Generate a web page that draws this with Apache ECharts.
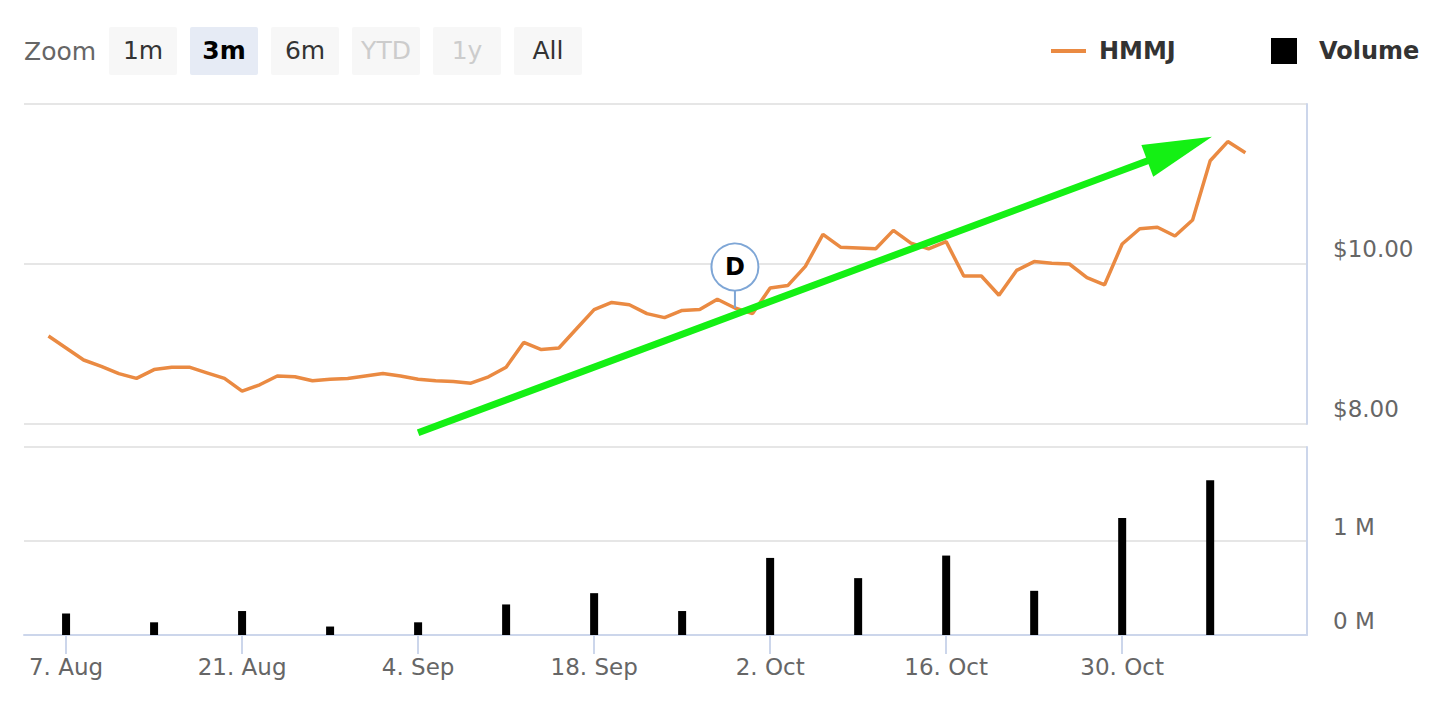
<!DOCTYPE html>
<html>
<head>
<meta charset="utf-8">
<script src="https://cdn.jsdelivr.net/npm/echarts@6/dist/echarts.min.js"></script>
<style>
html,body{margin:0;padding:0;background:#ffffff;}
#chart{width:1444px;height:720px;}
</style>
</head>
<body>
<div id="chart"></div>
<script>
// ---------- data ----------
const tradingDays = [
  '2017-08-04',
  '2017-08-07','2017-08-08','2017-08-09','2017-08-10','2017-08-11',
  '2017-08-14','2017-08-15','2017-08-16','2017-08-17','2017-08-18',
  '2017-08-21','2017-08-22','2017-08-23','2017-08-24','2017-08-25',
  '2017-08-28','2017-08-29','2017-08-30','2017-08-31','2017-09-01',
  '2017-09-04','2017-09-05','2017-09-06','2017-09-07','2017-09-08',
  '2017-09-11','2017-09-12','2017-09-13','2017-09-14','2017-09-15',
  '2017-09-18','2017-09-19','2017-09-20','2017-09-21','2017-09-22',
  '2017-09-25','2017-09-26','2017-09-27','2017-09-28','2017-09-29',
  '2017-10-02','2017-10-03','2017-10-04','2017-10-05','2017-10-06',
  '2017-10-09','2017-10-10','2017-10-11','2017-10-12','2017-10-13',
  '2017-10-16','2017-10-17','2017-10-18','2017-10-19','2017-10-20',
  '2017-10-23','2017-10-24','2017-10-25','2017-10-26','2017-10-27',
  '2017-10-30','2017-10-31','2017-11-01','2017-11-02','2017-11-03',
  '2017-11-06','2017-11-07','2017-11-08'
];
const prices = [
  9.10, 8.95, 8.80, 8.72, 8.63, 8.57, 8.68, 8.71, 8.71, 8.64,
  8.57, 8.41, 8.49, 8.60, 8.59, 8.54, 8.56, 8.57, 8.60, 8.63,
  8.60, 8.56, 8.54, 8.53, 8.51, 8.59, 8.71, 9.02, 8.93, 8.95,
  9.19, 9.43, 9.52, 9.49, 9.38, 9.33, 9.42, 9.43, 9.56, 9.45,
  9.38, 9.70, 9.73, 9.97, 10.37, 10.21, 10.20, 10.19, 10.42, 10.26,
  10.19, 10.28, 9.85, 9.85, 9.61, 9.92, 10.03, 10.01, 10.00, 9.83,
  9.74, 10.25, 10.44, 10.46, 10.35, 10.55, 11.29, 11.53, 11.39
];
const volumeWeeks = [
  '2017-08-07','2017-08-14','2017-08-21','2017-08-28','2017-09-04','2017-09-11','2017-09-18',
  '2017-09-25','2017-10-02','2017-10-09','2017-10-16','2017-10-23','2017-10-30','2017-11-06'
];
const volumes = [
  230000, 135000, 255000, 90000, 135000, 325000, 445000,
  255000, 820000, 605000, 845000, 470000, 1245000, 1645000
];
const tickDates = ['2017-08-07','2017-08-21','2017-09-04','2017-09-18','2017-10-02','2017-10-16','2017-10-30'];
const tickLabels = ['7. Aug','21. Aug','4. Sep','18. Sep','2. Oct','16. Oct','30. Oct'];
const flagDate = '2017-09-28';
const flagText = 'D';
// trend arrow annotation: [trading-day index, price]
const arrowFrom = [21.0, 7.89];
const arrowTo = [66.1, 11.59];
const zoomButtons = ['1m','3m','6m','YTD','1y','All'];
const selectedButton = '3m';
const disabledButtons = ['YTD','1y'];

// ---------- derived ----------
const priceData = prices.map((p, i) => [i, p]);
const volumeData = volumeWeeks.map((d, k) => [tradingDays.indexOf(d), volumes[k]]);
const tickIdx = tickDates.map(d => tradingDays.indexOf(d));
const flagIdx = tradingDays.indexOf(flagDate);

const FONT = 'DejaVu Sans';
const X_MIN = -1.39, X_MAX = 71.5;
const FLAG_BLUE = '#7ea6d6';

const chart = echarts.init(document.getElementById('chart'), null, {renderer: 'svg'});

const option = {
  animation: false,
  backgroundColor: '#ffffff',
  textStyle: {fontFamily: FONT},
  legend: [
    {
      data: [{name: 'HMMJ', icon: 'rect'}],
      left: 1051, top: 38, padding: 0,
      itemWidth: 35, itemHeight: 4,
      selectedMode: false,
      textStyle: {fontFamily: FONT, fontSize: 24, fontWeight: 'bold', color: '#333333', lineHeight: 26, padding: [0, 0, 0, 8]}
    },
    {
      data: [{name: 'Volume', icon: 'rect'}],
      left: 1271, top: 38, padding: 0,
      itemWidth: 26, itemHeight: 26,
      selectedMode: false,
      textStyle: {fontFamily: FONT, fontSize: 24, fontWeight: 'bold', color: '#333333', lineHeight: 26, padding: [0, 0, 0, 17]}
    }
  ],
  grid: [
    {left: 24, right: 137, top: 104, height: 320},
    {left: 24, right: 137, top: 447, height: 188}
  ],
  xAxis: [
    {
      type: 'value', gridIndex: 0, min: X_MIN, max: X_MAX, show: false,
      splitLine: {show: false}
    },
    {
      type: 'value', gridIndex: 1, min: X_MIN, max: X_MAX,
      splitLine: {show: false},
      axisLine: {show: true, onZero: false, lineStyle: {color: '#ccd6eb', width: 2}},
      axisTick: {show: true, customValues: tickIdx, length: 19, lineStyle: {color: '#ccd6eb', width: 2}},
      axisLabel: {
        customValues: tickIdx,
        margin: 20,
        fontFamily: FONT, fontSize: 23, color: '#666666',
        formatter: v => { const k = tickIdx.indexOf(Math.round(v)); return k >= 0 ? tickLabels[k] : ''; }
      }
    }
  ],
  yAxis: [
    {
      type: 'value', gridIndex: 0, position: 'right', min: 8, max: 12, interval: 2,
      axisLine: {show: true, onZero: false, lineStyle: {color: '#ccd6eb', width: 2}},
      axisTick: {show: false},
      splitLine: {show: true, lineStyle: {color: '#e6e6e6', width: 2}},
      axisLabel: {
        margin: 26, fontFamily: FONT, fontSize: 23, color: '#666666',
        verticalAlign: 'bottom', lineHeight: 23, padding: [0, 0, 4, 0],
        formatter: v => v >= 12 ? '' : '$' + v.toFixed(2)
      }
    },
    {
      type: 'value', gridIndex: 1, position: 'right', min: 0, max: 2000000, interval: 1000000,
      axisLine: {show: true, onZero: false, lineStyle: {color: '#ccd6eb', width: 2}},
      axisTick: {show: false},
      splitLine: {show: true, lineStyle: {color: '#e6e6e6', width: 2}},
      axisLabel: {
        margin: 26, fontFamily: FONT, fontSize: 23, color: '#666666',
        verticalAlign: 'bottom', lineHeight: 23, padding: [0, 0, 3, 0],
        formatter: v => v >= 2000000 ? '' : (v / 1000000) + ' M'
      }
    }
  ],
  series: [
    {
      name: 'HMMJ', type: 'line', xAxisIndex: 0, yAxisIndex: 0,
      data: priceData, showSymbol: false, symbol: 'none',
      lineStyle: {color: '#ea8a42', width: 3.5},
      itemStyle: {color: '#ea8a42'},
      z: 3,
      markPoint: {
        data: [
          {
            coord: [flagIdx, prices[flagIdx]],
            symbol: 'rect', symbolSize: [2, 17], symbolOffset: [0, -8.5],
            itemStyle: {color: FLAG_BLUE, borderWidth: 0},
            label: {show: false}
          },
          {
            coord: [flagIdx, prices[flagIdx]],
            symbol: 'circle', symbolSize: 47, symbolOffset: [0, -41],
            itemStyle: {color: '#ffffff', borderColor: FLAG_BLUE, borderWidth: 2},
            label: {show: true, position: 'inside', formatter: flagText,
                    fontFamily: FONT, fontSize: 24, fontWeight: 'bold', color: '#000000'}
          }
        ]
      }
    },
    {
      name: 'Volume', type: 'bar', xAxisIndex: 1, yAxisIndex: 1,
      data: volumeData, barWidth: 8,
      itemStyle: {color: '#000000'}
    }
  ]
};
chart.setOption(option);

// ---------- range selector + arrow annotation (graphics) ----------
const g = [];
g.push({type: 'text', left: 24, top: 39, z: 100,
  style: {text: 'Zoom', fontFamily: FONT, fontSize: 25, fill: '#666666'}});
zoomButtons.forEach((b, k) => {
  const x = 109 + 81 * k;
  const sel = b === selectedButton;
  const dis = disabledButtons.indexOf(b) >= 0;
  g.push({type: 'rect', z: 100, shape: {x: x, y: 27, width: 68, height: 48, r: 2},
    style: {fill: sel ? '#e6ebf5' : '#f7f7f7'}});
  g.push({type: 'text', z: 101, x: x + 34, y: 50,
    style: {text: b, fontFamily: FONT, fontSize: 25, fontWeight: sel ? 'bold' : 'normal',
      fill: sel ? '#000000' : (dis ? '#cccccc' : '#333333'), align: 'center', verticalAlign: 'middle'}});
});

const p0 = chart.convertToPixel({xAxisIndex: 0, yAxisIndex: 0}, arrowFrom);
const p1 = chart.convertToPixel({xAxisIndex: 0, yAxisIndex: 0}, arrowTo);
const dx = p1[0] - p0[0], dy = p1[1] - p0[1];
const len = Math.sqrt(dx * dx + dy * dy);
const ux = dx / len, uy = dy / len;
const nx = -uy, ny = ux;
const headLen = 69, headHalf = 17;
const bx = p1[0] - ux * headLen, by = p1[1] - uy * headLen;
const GREEN = '#14f014';
g.push({type: 'line', z: 50, shape: {x1: p0[0], y1: p0[1], x2: bx + ux * 4, y2: by + uy * 4},
  style: {stroke: GREEN, lineWidth: 7}});
g.push({type: 'polygon', z: 50, shape: {points: [[p1[0], p1[1]], [bx + nx * headHalf, by + ny * headHalf], [bx - nx * headHalf, by - ny * headHalf]]},
  style: {fill: GREEN}});

chart.setOption({graphic: g});
</script>
</body>
</html>
